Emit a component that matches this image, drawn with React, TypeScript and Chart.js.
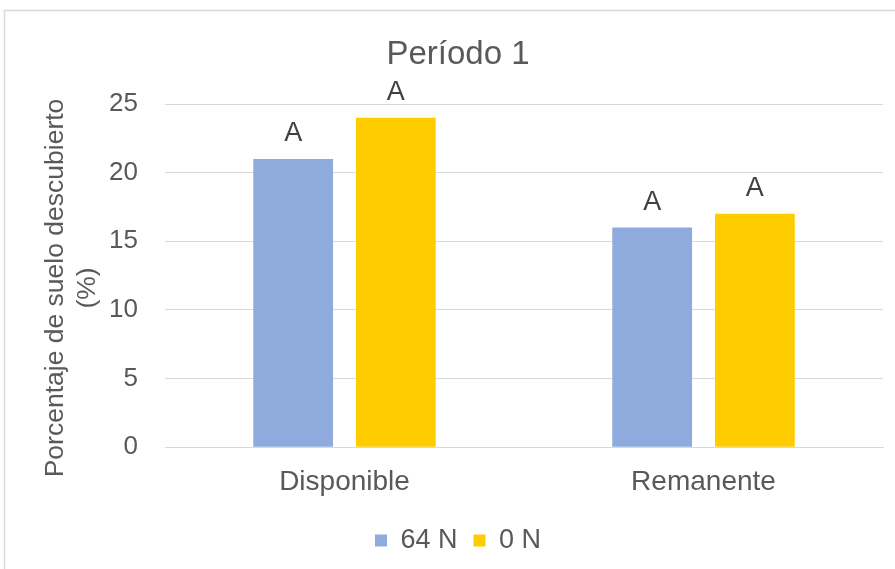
import React, { useEffect, useRef } from 'react';
import { Chart, registerables } from 'chart.js';

Chart.register(...registerables);

const categories = ['Disponible', 'Remanente'];
const seriesNames = ['64 N', '0 N'];
const values64N = [21, 16];
const values0N = [24, 17];
const letters64N = ['A', 'A'];
const letters0N = ['A', 'A'];
const chartTitle = 'Período 1';
const yAxisTitle = ['Porcentaje de suelo descubierto', '(%)'];
const yMin = 0;
const yMax = 25;
const yStep = 5;

const FONT = '"Liberation Sans", Arial, sans-serif';
const TEXT = '#595959';

const framePlugin = {
  id: 'frame',
  beforeDraw(chart: any) {
    const ctx = chart.ctx;
    ctx.save();
    ctx.fillStyle = '#ffffff';
    ctx.fillRect(0, 0, chart.width, chart.height);
    ctx.strokeStyle = '#d9d9d9';
    ctx.lineWidth = 1.5;
    ctx.strokeRect(4.5, 10.5, chart.width + 20, chart.height + 20);
    ctx.restore();
  },
};

const lettersPlugin = {
  id: 'letters',
  afterDatasetsDraw(chart: any) {
    const ctx = chart.ctx;
    const sets = [letters64N, letters0N];
    ctx.save();
    ctx.font = `27px ${FONT}`;
    ctx.fillStyle = '#404040';
    ctx.textAlign = 'center';
    ctx.textBaseline = 'middle';
    chart.data.datasets.forEach((_: any, di: number) => {
      const meta = chart.getDatasetMeta(di);
      meta.data.forEach((el: any, i: number) => {
        ctx.fillText(sets[di][i], el.x, el.y - 25);
      });
    });
    ctx.restore();
  },
};

const yTitlePlugin = {
  id: 'yTitle',
  afterDraw(chart: any) {
    const ctx = chart.ctx;
    ctx.save();
    ctx.font = `26.5px ${FONT}`;
    ctx.fillStyle = TEXT;
    ctx.textAlign = 'center';
    ctx.textBaseline = 'middle';
    ctx.translate(0, 288);
    ctx.rotate(-Math.PI / 2);
    ctx.fillText(yAxisTitle[0], 0, 56);
    ctx.fillText(yAxisTitle[1], 0, 88);
    ctx.restore();
  },
};

export default function App() {
  const ref = useRef<HTMLCanvasElement>(null);

  useEffect(() => {
    if (!ref.current) return;
    const chart = new Chart(ref.current, {
      type: 'bar',
      data: {
        labels: categories,
        datasets: [
          {
            label: seriesNames[0],
            data: values64N,
            backgroundColor: '#8faadc',
            categoryPercentage: 0.572,
            barPercentage: 0.777,
          },
          {
            label: seriesNames[1],
            data: values0N,
            backgroundColor: '#ffcc00',
            categoryPercentage: 0.572,
            barPercentage: 0.777,
          },
        ],
      },
      options: {
        responsive: false,
        animation: false,
        layout: { padding: { left: 33, right: 12, top: 0, bottom: 5 } },
        plugins: {
          title: {
            display: true,
            text: chartTitle,
            color: TEXT,
            font: { family: FONT, size: 33, weight: 'normal' },
            padding: { top: 34.8, bottom: 29.6 },
          },
          legend: {
            position: 'bottom',
            labels: {
              boxWidth: 12,
              boxHeight: 12,
              padding: 16,
              color: TEXT,
              font: { family: FONT, size: 27 },
            },
          },
          tooltip: { enabled: false },
        },
        scales: {
          x: {
            grid: { display: false, drawTicks: false },
            border: { display: true, color: '#d9d9d9' },
            ticks: { color: TEXT, font: { family: FONT, size: 28 }, padding: 18.6 },
            afterFit(s: any) {
              s.height = 63.8;
            },
          },
          y: {
            min: yMin,
            max: yMax,
            grid: { color: '#d9d9d9', drawTicks: false },
            border: { display: false },
            ticks: { stepSize: yStep, color: TEXT, font: { family: FONT, size: 26 }, padding: 27 },
            afterFit(s: any) {
              s.width = 132;
            },
          },
        },
      },
      plugins: [framePlugin, lettersPlugin, yTitlePlugin],
    });
    return () => chart.destroy();
  }, []);

  return (
    <div style={{ position: 'absolute', left: 0, top: 0, width: 895, height: 569 }}>
      <canvas ref={ref} width={895} height={569} />
    </div>
  );
}
